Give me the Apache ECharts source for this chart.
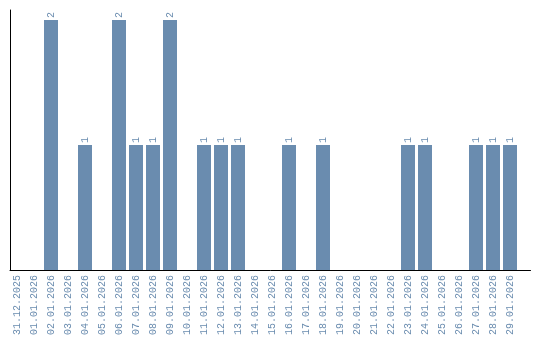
<!DOCTYPE html>
<html>
<head>
<meta charset="utf-8">
<script src="https://cdn.jsdelivr.net/npm/echarts@6/dist/echarts.min.js"></script>
<style>html,body{margin:0;padding:0;background:#fff}#c{width:540px;height:340px}</style>
</head>
<body>
<div id="c"></div>
<script>
const categories = ["31.12.2025","01.01.2026","02.01.2026","03.01.2026","04.01.2026","05.01.2026","06.01.2026","07.01.2026","08.01.2026","09.01.2026","10.01.2026","11.01.2026","12.01.2026","13.01.2026","14.01.2026","15.01.2026","16.01.2026","17.01.2026","18.01.2026","19.01.2026","20.01.2026","21.01.2026","22.01.2026","23.01.2026","24.01.2026","25.01.2026","26.01.2026","27.01.2026","28.01.2026","29.01.2026"];
const values = [0,0,2,0,1,0,2,1,1,2,0,1,1,1,0,0,1,0,1,0,0,0,0,1,1,0,0,1,1,1];
const barColor = '#6a8caf';
const fontFam = 'Liberation Mono';

const chart = echarts.init(document.getElementById('c'), null, {renderer: 'canvas'});
chart.setOption({
  animation: false,
  grid: [
    {left: 8.5, right: 21.5, top: 20, bottom: 70},
    {left: 10, right: 9.5, top: 10, bottom: 70}
  ],
  xAxis: [
    {
      type: 'category', gridIndex: 0, data: categories,
      axisLine: {show: false}, axisTick: {show: false},
      axisLabel: {rotate: 90, interval: 0, color: barColor, fontFamily: fontFam, fontSize: 10, margin: 5}
    },
    {
      type: 'value', gridIndex: 1, min: 0, max: 1,
      axisLine: {show: true, lineStyle: {color: '#000', width: 1}},
      axisTick: {show: false}, axisLabel: {show: false}, splitLine: {show: false}
    }
  ],
  yAxis: [
    {
      type: 'value', gridIndex: 0, min: 0, max: 2,
      axisLine: {show: false}, axisTick: {show: false}, axisLabel: {show: false}, splitLine: {show: false}
    },
    {
      type: 'value', gridIndex: 1, min: 0, max: 1,
      axisLine: {show: true, lineStyle: {color: '#000', width: 1}},
      axisTick: {show: false}, axisLabel: {show: false}, splitLine: {show: false}
    }
  ],
  series: [{
    type: 'bar', xAxisIndex: 0, yAxisIndex: 0,
    data: values.map(v => v === 0 ? null : v),
    barWidth: 14,
    itemStyle: {color: barColor},
    label: {
      show: true, position: 'top', rotate: 90, align: 'left', verticalAlign: 'middle',
      distance: 2, color: barColor, fontFamily: fontFam, fontSize: 10
    }
  }]
});
</script>
</body>
</html>
